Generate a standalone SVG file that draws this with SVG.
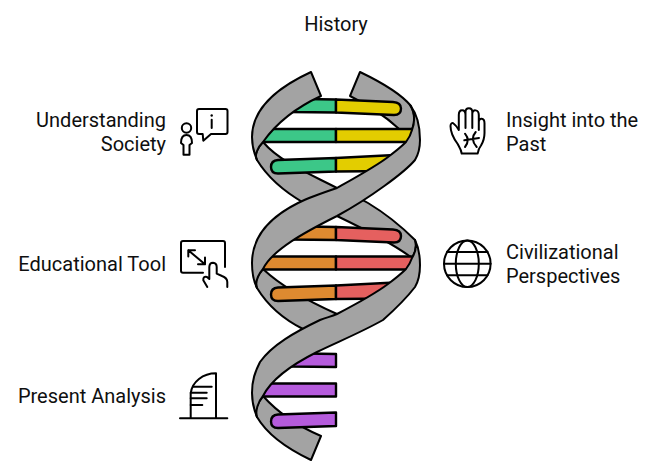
<svg xmlns="http://www.w3.org/2000/svg" width="660" height="474" viewBox="0 0 660 474">
<style>
text{font-family:Roboto,"Liberation Sans",sans-serif;font-size:20px;fill:#0f0f0f}
.e{text-anchor:end}
.m{text-anchor:middle}
.band{fill:#a3a3a3;stroke:#000;stroke-width:2;stroke-linejoin:round}
.r{stroke:#000;stroke-width:2.4;stroke-linejoin:round}
.g{fill:#3cc788}.y{fill:#e3cd00}.o{fill:#de8a30}.d{fill:#e5605f}.p{fill:#b55bdc}
.i{fill:none;stroke:#000;stroke-width:2;stroke-linecap:round;stroke-linejoin:round}
</style>
<rect width="660" height="474" fill="#fff"/>
<g id="helix">
<g id="back-strands">
<path class="band" d="M350,96 L360,72 C385,84 402,95 411,106 C415,113 415,122 412,130 L405,136 L398,128 C385,116 368,105 350,96Z"/>
<path class="band" d="M263,142 C280,162 310,174 337,188 C350,194 358,197 368,203 C388,215 403,228 415,240 C417,246 415,253 412,258 C395,245 362,228 337,216 C325,212 314,208 304,203 C285,192 268,178 257,160 C254,155 258,147 263,142Z"/>
<path class="band" d="M263,269 C280,285 310,302 337,314 L345,325 L320,340 L303,329 C285,320 268,306 257,288 C254,282 258,274 263,269Z"/>
<path class="band" d="M263,396 C280,415 300,427 321,436 L311,460 C290,450 268,436 257,417 C254,411 258,402 263,396Z"/>
</g>
<g id="rungs-top">
<path class="r g" d="M290,98.8 L336,99.5 V112.5 L290,112Z"/>
<path class="r y" d="M336,99.5 L393,102 Q401,102.5 401,108.5 Q401,115 394,115 L336,112.5Z"/>
<path class="r g" d="M262,129 H336 V142 H262Z"/>
<path class="r y" d="M336,129 H416 V142 H336Z"/>
<path class="r g" d="M336,158 L278,160 Q271,160.5 271,167 Q271,173.5 278,173.5 L336,171.5Z"/>
<path class="r y" d="M336,158 L395,155 V171 L336,171.5Z"/>
</g>
<g id="rungs-middle" transform="translate(0,127.5)">
<path class="r o" d="M290,98.8 L336,99.5 V112.5 L290,112Z"/>
<path class="r d" d="M336,99.5 L393,102 Q401,102.5 401,108.5 Q401,115 394,115 L336,112.5Z"/>
<path class="r o" d="M262,129 H336 V142 H262Z"/>
<path class="r d" d="M336,129 H416 V142 H336Z"/>
<path class="r o" d="M336,158 L278,160 Q271,160.5 271,167 Q271,173.5 278,173.5 L336,171.5Z"/>
<path class="r d" d="M336,158 L395,155 V171 L336,171.5Z"/>
</g>
<g id="rungs-bottom" transform="translate(0,254.5)">
<path class="r p" d="M290,98.8 L336,99.5 V112.5 L290,112Z"/>
<path class="r p" d="M262,129 H336 V142 H262Z"/>
<path class="r p" d="M336,158 L278,160 Q271,160.5 271,167 Q271,173.5 278,173.5 L336,171.5Z"/>
</g>
<g id="front-strands">
<path class="band" d="M311,72 C285,84 252,105 252,137 C252,145 254,153 257,160 C254,155 258,147 263,142 C275,125 295,108 321,96Z"/>
<path class="band" d="M410,105 C418,115 420,128 420,140 C420,148 418,155 415,160 C405,172 370,198 337,216 C305,232 272,250 263,269 C258,275 255,282 257,288 C254,282 252,272 252,263 C252,235 272,216 298,203 C310,197 322,193 337,188 C360,175 378,165 388,157 C396,151 401,147 406,142 C409,138 411,134 412,130 C415,122 415,113 410,105Z"/>
<path class="band" d="M415,240 C419,248 420,258 420,265 C420,275 418,282 415,287 C405,300 392,312 383,320 C360,333 335,343 317,352 C295,363 272,378 263,396 C258,402 255,411 257,417 C254,410 252,400 252,393 C252,380 255,372 260,362 C272,345 295,332 320,320 C327,317 331,317 337,314 C360,302 376,293 388,284 C396,278 401,274 406,269 C409,265 411,261 412,258 C415,253 417,246 415,240Z"/>
</g>
</g>
<g id="history"><text class="m" x="336" y="31">History</text></g>
<g id="understanding-society">
<text class="e" x="166" y="127">Understanding</text>
<text class="e" x="166" y="151">Society</text>
<path class="i" d="M199,109 H225.5 Q227.5,109 227.5,111 V132 Q227.5,134 225.5,134 H211 L203.3,140.7 L202.7,134 H199 Q197,134 197,132 V111 Q197,109 199,109Z"/>
<path class="i" d="M211.7,119.7 V128"/>
<circle cx="211.7" cy="115.5" r="1.2" fill="#000"/>
<circle class="i" cx="186.5" cy="128" r="4.7"/>
<path class="i" d="M186.5,135 C182.5,135 181,138 181,143 L183.5,145 V154.7 H189.5 V145 L192,143 C192,138 190.5,135 186.5,135Z"/>
</g>
<g id="educational-tool">
<text class="e" x="166" y="271">Educational Tool</text>
<path class="i" d="M203,272.7 H183 Q181,272.7 181,270.7 V243 Q181,241 183,241 H223 Q225,241 225,243 V267"/>
<path class="i" d="M188.3,250.3 L205,264.3 M188.3,256.5 V250.3 H195 M205,257.5 V264.3 H198"/>
<path class="i" d="M207.3,287 L203.3,280.3 Q203,276 207,277 L209.3,279 V267 Q209.5,262.7 213,262.7 Q216.7,263 216.7,267 V273.7 L222,276 Q227.3,278 227.3,282 V287"/>
</g>
<g id="present-analysis">
<text class="e" x="166" y="403">Present Analysis</text>
<path class="i" d="M180,418.3 H227.3 M216,418.3 V373.3 C203,373.3 192,382 190.7,393.3 V418.3"/>
<path class="i" d="M193,386.7 H211.7 M190.7,392.7 H206.7 M190.7,398.3 H206.7 M190.7,405 H202.3"/>
</g>
<g id="insight">
<text x="506" y="127">Insight into the</text>
<text x="506" y="151">Past</text>
<path class="i" d="M461.7,153.5 C461,149 459,146.500 457.7,144 C454,139 450.500,134 450.500,126 C450.500,123 452.500,122.500 453.500,123.500 C455,124.500 457,127 458.800,130 V115 C458.800,108.500 465.500,108.500 465.500,115 V128 V112 C465.500,107 472.300,107 472.300,112 V128 V114 C472.300,108.500 478.800,109.500 478.800,115 V130 V122 C478.800,117.500 484.500,117.500 484.500,123.300 V133 C484.500,138 482.500,143 481,145.500 C479,148 478,151 477.700,153.500Z"/>
<path class="i" stroke-width="1.6" d="M465,133.700 Q470.500,140.300 465,147 M475.700,132 Q469.500,139 476.700,147 M464.300,140.300 L479,138"/>
</g>
<g id="civilizational">
<text x="506" y="259">Civilizational</text>
<text x="506" y="283">Perspectives</text>
<circle class="i" cx="467.3" cy="263.7" r="23.3"/>
<ellipse class="i" cx="467.3" cy="263.7" rx="11.5" ry="23.3"/>
<path class="i" d="M447,252 H487.6 M444,263.7 H490.6 M447,275.2 H487.6"/>
</g>
</svg>
